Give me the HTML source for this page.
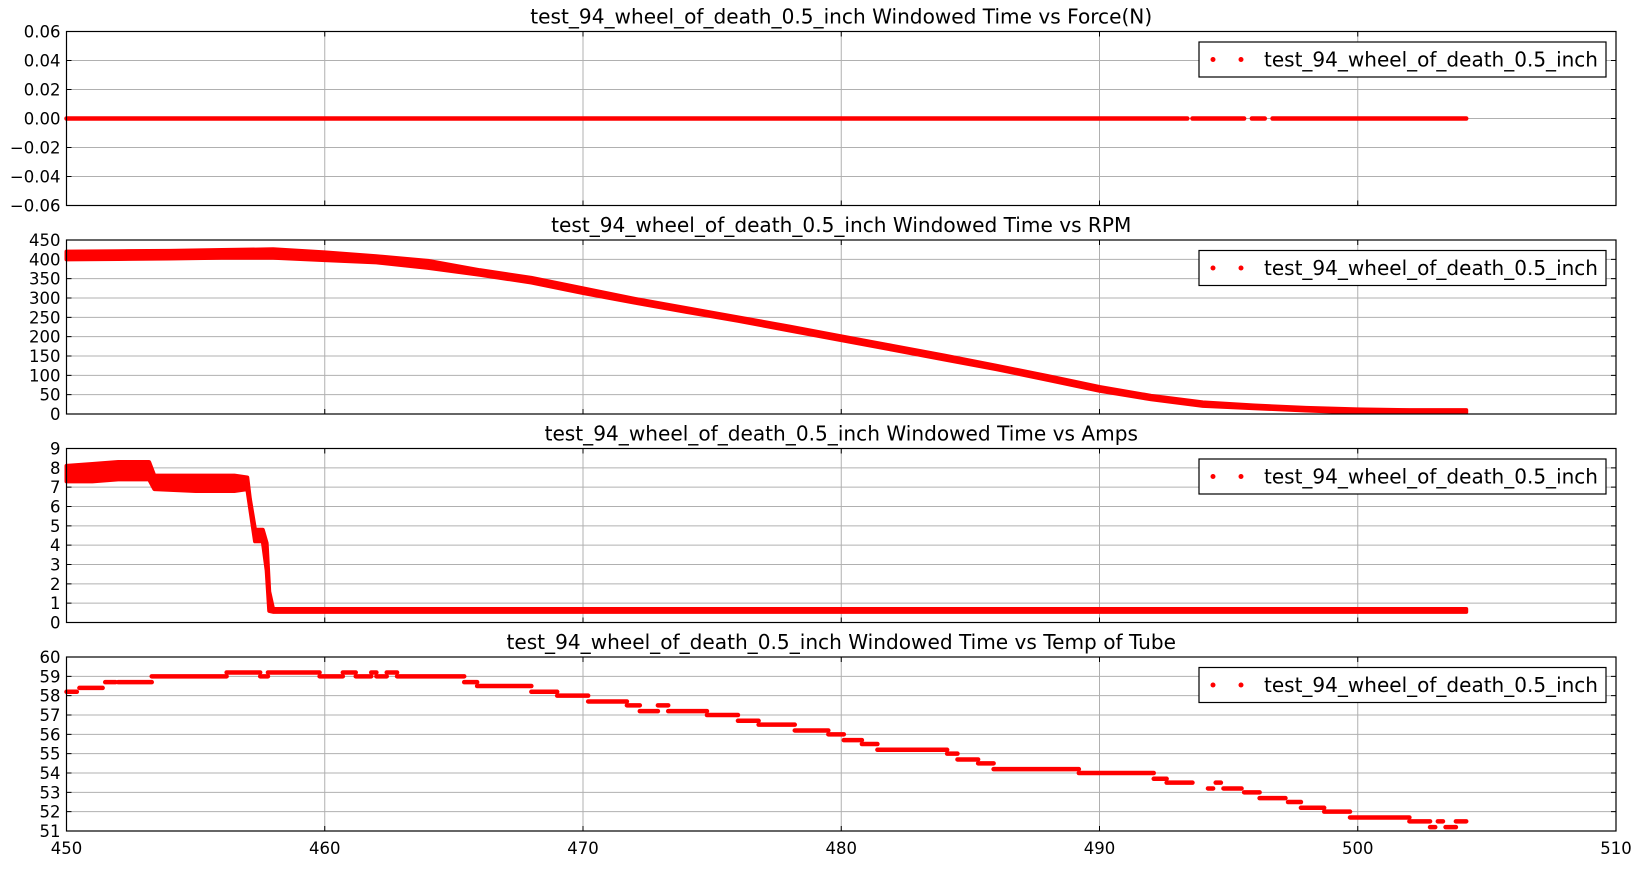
<!DOCTYPE html>
<html><head><meta charset="utf-8"><style>
html,body{margin:0;padding:0;background:#fff;}
svg text{font-family:"DejaVu Sans","Liberation Sans",sans-serif;fill:#000;}
</style></head><body>
<svg id="fig" width="1642" height="865" viewBox="0 0 1642 865" xmlns="http://www.w3.org/2000/svg"></svg>
<script>
// ---- data ----
const xTicks = [450,460,470,480,490,500,510];
const forceTicks = [-0.06,-0.04,-0.02,0.00,0.02,0.04,0.06];
const rpmTicks = [0,50,100,150,200,250,300,350,400,450];
const ampTicks = [0,1,2,3,4,5,6,7,8,9];
const tempTicks = [51,52,53,54,55,56,57,58,59,60];

const forceT = [450, 493.4, 493.6, 495.6, 495.9, 496.4, 496.7, 504.2];
const forceV = [0, 0, 0, 0, 0, 0, 0, 0];

const rpmT  = [450, 452, 454, 456, 458, 460, 462, 464, 466, 468, 470, 472, 474, 476, 478, 480, 482, 484, 486, 488, 490, 492, 494, 496, 498, 500, 502, 504.2];
const rpmLo = [400, 401, 402, 404, 404, 398, 392, 378, 360, 340, 313, 288, 264, 241, 216, 191, 166, 141, 116, 88, 60, 38, 21, 15, 9, 4, 4, 4];
const rpmHi = [420, 421, 422, 424, 426, 418, 408, 396, 372, 352, 325, 298, 274, 250, 226, 201, 176, 151, 125, 98, 70, 47, 30, 22, 16, 12, 10, 10];

const ampT  = [450, 451, 452, 453.2, 453.4, 455, 456.5, 457.0, 457.1, 457.3, 457.6, 457.75, 457.85, 458.0, 470, 490, 504.2];
const ampLo = [7.3, 7.3, 7.4, 7.4, 6.9, 6.8, 6.8, 6.9, 6.0, 4.2, 4.2, 2.7, 0.6, 0.55, 0.55, 0.55, 0.55];
const ampHi = [8.1, 8.2, 8.3, 8.3, 7.6, 7.6, 7.6, 7.5, 6.4, 4.8, 4.8, 4.1, 1.6, 0.7, 0.7, 0.7, 0.7];

const tempStart = [450, 450.5, 451.5, 452.0, 453.3, 456.2, 457.5, 457.8, 459.8, 460.7, 461.2, 461.8, 462.0, 462.4, 462.8, 465.4, 465.9, 468.0, 469.0, 470.2, 471.7, 472.2, 472.9, 473.3, 474.8, 476.0, 476.8, 478.2, 479.5, 480.1, 480.8, 481.4, 484.1, 484.5, 485.3, 485.9, 489.2, 492.1, 492.6, 494.2, 494.5, 494.8, 495.6, 496.2, 497.3, 497.8, 498.7, 499.7, 502.0, 502.8, 503.1, 503.4, 503.8];
const tempEnd   = [450.4, 451.4, 451.9, 453.3, 456.2, 457.5, 457.8, 459.8, 460.7, 461.2, 461.8, 462.0, 462.4, 462.8, 465.4, 465.9, 468.0, 469.0, 470.2, 471.7, 472.2, 472.9, 473.3, 474.8, 476.0, 476.8, 478.2, 479.5, 480.1, 480.8, 481.4, 484.1, 484.5, 485.3, 485.9, 489.2, 492.1, 492.6, 493.6, 494.4, 494.7, 495.5, 496.2, 497.2, 497.8, 498.7, 499.7, 502.0, 502.8, 503.0, 503.3, 503.8, 504.2];
const tempV     = [58.2, 58.4, 58.7, 58.7, 59.0, 59.2, 59.0, 59.2, 59.0, 59.2, 59.0, 59.2, 59.0, 59.2, 59.0, 58.7, 58.5, 58.2, 58.0, 57.7, 57.5, 57.2, 57.5, 57.2, 57.0, 56.7, 56.5, 56.2, 56.0, 55.7, 55.5, 55.2, 55.0, 54.7, 54.5, 54.2, 54.0, 53.7, 53.5, 53.2, 53.5, 53.2, 53.0, 52.7, 52.5, 52.2, 52.0, 51.7, 51.5, 51.2, 51.5, 51.2, 51.5];

const titles = [
 "test_94_wheel_of_death_0.5_inch Windowed Time vs Force(N)",
 "test_94_wheel_of_death_0.5_inch Windowed Time vs RPM",
 "test_94_wheel_of_death_0.5_inch Windowed Time vs Amps",
 "test_94_wheel_of_death_0.5_inch Windowed Time vs Temp of Tube"];
const legendLabel = "test_94_wheel_of_death_0.5_inch";

// ---- layout ----
const NS = "http://www.w3.org/2000/svg";
const svg = document.getElementById('fig');
const L = 66.5, R = 1616, PH = 174, STEP = 208.5, TOP0 = 31.5;
const X0 = 450, X1 = 510;
function sx(v){ return L + (v - X0) / (X1 - X0) * (R - L); }
function mk(tag, attrs, parent){
  const e = document.createElementNS(NS, tag);
  for (const k in attrs) e.setAttribute(k, attrs[k]);
  (parent || svg).appendChild(e);
  return e;
}
function fmt(v, dec){ const s = Math.abs(v).toFixed(dec); return (v < 0 ? "\u2212" : "") + s; }

const panels = [
 {ticks: forceTicks, dec: 2, name: 'force'},
 {ticks: rpmTicks, dec: 0, name: 'rpm'},
 {ticks: ampTicks, dec: 0, name: 'amps'},
 {ticks: tempTicks, dec: 0, name: 'temp'}];

panels.forEach((p, i) => {
  const top = TOP0 + i * STEP, bot = top + PH;
  const y0 = p.ticks[0], y1 = p.ticks[p.ticks.length - 1];
  const sy = v => bot - (v - y0) / (y1 - y0) * PH;
  p.sy = sy;
  const g = mk('g', {});
  
  
  xTicks.forEach(t => {
    const ln = mk('line', {x1: sx(t), x2: sx(t), y1: top, y2: bot, stroke: '#b0b0b0', 'stroke-width': 1}, g);
    
    
  });
  p.ticks.forEach(t => {
    const ln = mk('line', {x1: L, x2: R, y1: sy(t), y2: sy(t), stroke: '#b0b0b0', 'stroke-width': 1}, g);
    
    
    const tk = mk('path', {d: `M${L},${sy(t)}h5M${R},${sy(t)}h-5`, stroke: '#000', 'stroke-width': 1}, g);
    
    
    const tx = mk('text', {x: L - 6, y: sy(t) + 6, 'text-anchor': 'end', 'font-size': 16.5}, g);
    tx.textContent = fmt(t, p.dec);
    
    
  });
  xTicks.forEach(t => {
    const tk = mk('path', {d: `M${sx(t)},${top}v5M${sx(t)},${bot}v-5`, stroke: '#000', 'stroke-width': 1}, g);
    
    
    if (i === 3) {
      const tx = mk('text', {x: sx(t), y: bot + 23, 'text-anchor': 'middle', 'font-size': 16.5}, g);
      tx.textContent = String(t);
      
      
    }
  });
  const tt = mk('text', {x: (L + R) / 2, y: top - 8, 'text-anchor': 'middle', 'font-size': 20.1}, g);
  tt.textContent = titles[i];
  
  
  p.g = g; p.top = top; p.bot = bot;
});

function band(p, T, lo, hi, nm){
  let d = 'M' + T.map((t, k) => sx(t) + ',' + p.sy(hi[k])).join('L');
  for (let k = T.length - 1; k >= 0; k--) d += 'L' + sx(T[k]) + ',' + p.sy(lo[k]);
  d += 'Z';
  const e = mk('path', {d: d, fill: '#f00', stroke: '#f00', 'stroke-width': 4, 'stroke-linejoin': 'round'}, p.g);
  
  
}
(function(){
  const p = panels[0];
  for (let k = 0; k < forceT.length - 1; k += 2) {
    const e = mk('line', {x1: sx(forceT[k]), x2: sx(forceT[k + 1]), y1: p.sy(forceV[k]), y2: p.sy(forceV[k + 1]), stroke: '#f00', 'stroke-width': 4.5, 'stroke-linecap': 'round'}, p.g);
    
    
  }
})();
band(panels[1], rpmT, rpmLo, rpmHi, 'rpm-series');
band(panels[2], ampT, ampLo, ampHi, 'amps-series');
(function(){
  const p = panels[3];
  tempV.forEach((v, k) => {
    const e = mk('line', {x1: sx(tempStart[k]), x2: sx(tempEnd[k]), y1: p.sy(v), y2: p.sy(v), stroke: '#f00', 'stroke-width': 4.5, 'stroke-linecap': 'round'}, p.g);
    
    
  });
})();
panels.forEach((p, i) => {
  const f = mk('rect', {x: L, y: p.top, width: R - L, height: PH, fill: 'none', stroke: '#000', 'stroke-width': 1.2});
  
  
  const lg = mk('g', {});
  
  
  const ly = p.top + 10.5;
  mk('rect', {x: 1199, y: ly, width: 407, height: 35, fill: '#fff', stroke: '#000', 'stroke-width': 1.2}, lg);
  [1213, 1241].forEach(cx => {
    const c = mk('circle', {cx: cx, cy: ly + 17.5, r: 2.5, fill: '#f00'}, lg);
    
    
  });
  const t = mk('text', {x: 1264, y: ly + 24.5, 'font-size': 20, textLength: 334, lengthAdjust: 'spacingAndGlyphs'}, lg);
  t.textContent = legendLabel;
  
  
});
</script>
</body></html>
